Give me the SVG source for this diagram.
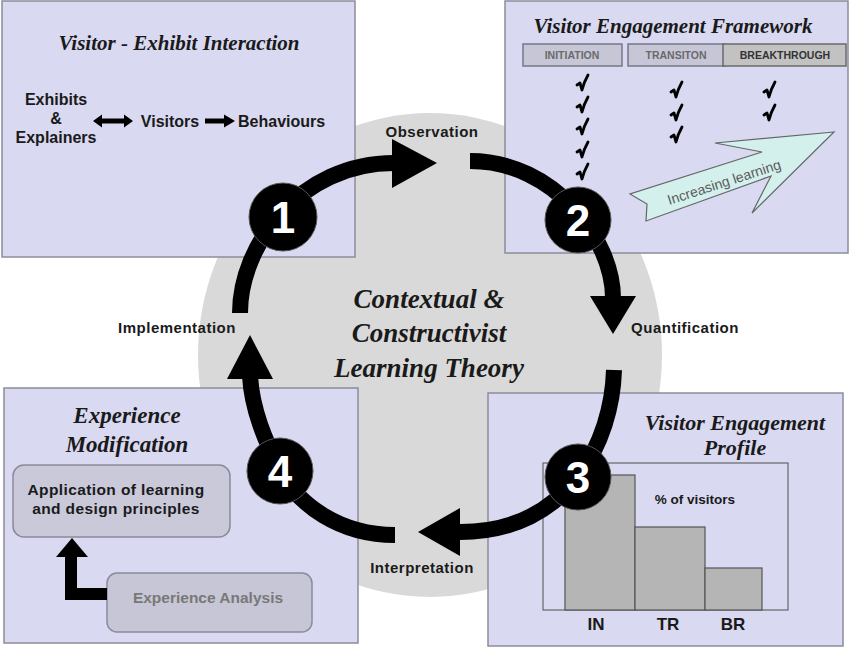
<svg xmlns="http://www.w3.org/2000/svg" xmlns:xlink="http://www.w3.org/1999/xlink" width="850" height="654" viewBox="0 0 850 654">
  <style>
    .panel { fill: #d9d9f1; stroke: #8c8c9c; stroke-width: 1.5; }
    .ttl { font-family: "Liberation Serif", "Times New Roman", serif; font-weight: bold; font-style: italic; fill: #1a1a1a; text-anchor: middle; }
    .sans { font-family: "Liberation Sans", Arial, sans-serif; font-weight: bold; fill: #1a1a1a; }
    .muted { font-family: "Liberation Sans", Arial, sans-serif; font-weight: bold; fill: #787878; }
    .lbl { font-family: "Liberation Sans", Arial, sans-serif; font-weight: bold; font-size: 15px; letter-spacing: 0.5px; fill: #1a1a1a; text-anchor: middle; }
    .arc { fill: none; stroke: #000; stroke-width: 16; }
    .head { fill: #000; }
    .num { font-family: "Liberation Sans", Arial, sans-serif; font-weight: bold; font-size: 44px; fill: #fff; text-anchor: middle; }
    .bar { fill: #c6c6d6; stroke: #777787; stroke-width: 1.5; }
    .bartxt { font-family: "Liberation Sans", Arial, sans-serif; font-weight: bold; font-size: 10.5px; text-anchor: middle; }
    .tick { fill: none; stroke: #000; stroke-width: 2.8; stroke-linejoin: round; stroke-linecap: round; }
    .col { fill: #b5b5b5; stroke: #555; stroke-width: 1.2; }
    .rbox { fill: #c9c9da; stroke: #8a8a9a; stroke-width: 1.5; }
  </style>
  <defs>
    <path id="tick" class="tick" d="M-6,1 L-3,-1 L-1,6 Q1,-2 5,-9"/>
  </defs>

  <rect width="850" height="654" fill="#ffffff"/>

  <g id="theory-background">
    <ellipse cx="430" cy="355" rx="232" ry="242" fill="#d9d9d9"/>
  </g>

  <g id="panel-interaction">
    <rect class="panel" x="2" y="1" width="353" height="256"/>
    <text class="ttl" x="179" y="50" font-size="21">Visitor - Exhibit Interaction</text>
    <text class="sans" x="56" y="105" font-size="16" text-anchor="middle">Exhibits</text>
    <text class="sans" x="56" y="124" font-size="16" text-anchor="middle">&amp;</text>
    <text class="sans" x="56" y="143" font-size="16" text-anchor="middle">Explainers</text>
    <polygon fill="#000" points="93,121 102,114.5 102,118.5 124,118.5 124,114.5 133,121 124,127.5 124,123.5 102,123.5 102,127.5"/>
    <text class="sans" x="170" y="127" font-size="16" text-anchor="middle">Visitors</text>
    <polygon fill="#000" points="205,118.5 224,118.5 224,114.5 235,121 224,127.5 224,123.5 205,123.5"/>
    <text class="sans" x="238" y="127" font-size="16">Behaviours</text>
  </g>

  <g id="panel-framework">
    <rect class="panel" x="505" y="1" width="343" height="252"/>
    <text class="ttl" x="673" y="33" font-size="21">Visitor Engagement Framework</text>
    <rect class="bar" x="523" y="44" width="99" height="22"/>
    <text class="bartxt" x="572" y="59" fill="#6a6a6a">INITIATION</text>
    <rect class="bar" x="628" y="44" width="97" height="22"/>
    <text class="bartxt" x="676" y="59" fill="#6a6a6a">TRANSITON</text>
    <rect x="723" y="44" width="123" height="22" fill="#c2c2c2" stroke="#6a6a6a" stroke-width="1.5"/>
    <text class="bartxt" x="785" y="59" fill="#333">BREAKTHROUGH</text>
    <use xlink:href="#tick" x="583" y="84"/>
    <use xlink:href="#tick" x="583" y="106"/>
    <use xlink:href="#tick" x="583" y="128"/>
    <use xlink:href="#tick" x="583" y="151"/>
    <use xlink:href="#tick" x="583" y="173"/>
    <use xlink:href="#tick" x="677" y="91"/>
    <use xlink:href="#tick" x="677" y="114"/>
    <use xlink:href="#tick" x="677" y="136"/>
    <use xlink:href="#tick" x="770" y="91"/>
    <use xlink:href="#tick" x="770" y="114"/>
    <polygon points="834,132 715,143 762,152 630,194 647,204 646,221 771,176 752,213" fill="#d3f0ec" stroke="#666" stroke-width="1.2" stroke-linejoin="miter"/>
    <text x="724" y="187" font-family="Liberation Sans, Arial, sans-serif" font-size="14" fill="#5a5a5a" text-anchor="middle" transform="rotate(-18 724 182)">Increasing learning</text>
  </g>

  <g id="panel-profile">
    <rect class="panel" x="488" y="393" width="355" height="253"/>
    <text class="ttl" x="735" y="430" font-size="22">Visitor Engagement</text>
    <text class="ttl" x="735" y="455" font-size="22">Profile</text>
    <rect x="543" y="463" width="245" height="147" fill="none" stroke="#666" stroke-width="1.2"/>
    <rect class="col" x="565" y="475" width="70" height="135"/>
    <rect class="col" x="635" y="527" width="70" height="83"/>
    <rect class="col" x="705" y="568" width="57" height="42"/>
    <text class="sans" x="695" y="504" font-size="13.5" text-anchor="middle">% of visitors</text>
    <text class="sans" x="596" y="630" font-size="17" text-anchor="middle">IN</text>
    <text class="sans" x="668" y="630" font-size="17" text-anchor="middle">TR</text>
    <text class="sans" x="733" y="630" font-size="17" text-anchor="middle">BR</text>
  </g>

  <g id="panel-modification">
    <rect class="panel" x="4" y="388" width="354" height="255"/>
    <text class="ttl" x="127" y="423" font-size="23">Experience</text>
    <text class="ttl" x="127" y="452" font-size="23">Modification</text>
    <g id="node-application">
      <rect class="rbox" x="13" y="465" width="217" height="72" rx="11"/>
      <text class="sans" x="116" y="495" font-size="15.5" letter-spacing="0.4" text-anchor="middle">Application of learning</text>
      <text class="sans" x="116" y="514" font-size="15.5" letter-spacing="0.4" text-anchor="middle">and design principles</text>
    </g>
    <g id="node-analysis">
      <rect x="107" y="573" width="205" height="59" rx="10" fill="#c6c6d6" stroke="#8a8a9a" stroke-width="1.5"/>
      <text class="muted" x="208" y="603" font-size="15.5" text-anchor="middle">Experience Analysis</text>
    </g>
    <g id="analysis-to-application">
      <path d="M107,594 L71,594 L71,555" fill="none" stroke="#000" stroke-width="12"/>
      <polygon fill="#000" points="72,538 56,557 88,557"/>
    </g>
  </g>

  <g id="center-theory">
    <text class="ttl" x="429" y="308" font-size="27">Contextual &amp;</text>
    <text class="ttl" x="429" y="342" font-size="27">Constructivist</text>
    <text class="ttl" x="429" y="377" font-size="27">Learning Theory</text>
  </g>

  <g id="connectors">
    <path class="arc" d="M240,313 C240,245 300,163 394,163"/>
    <polygon class="head" points="437,163 392,139 392,188"/>
    <path class="arc" d="M470,161 C555,161 613,240 613,298"/>
    <polygon class="head" points="613,334 590,296 636,296"/>
    <path class="arc" d="M614,370 C612,440 570,532 460,532"/>
    <polygon class="head" points="418,532 460,508 460,556"/>
    <path class="arc" d="M395,535 C340,535 298,505 280,470 C265,440 252,410 250,376"/>
    <polygon class="head" points="250,335 227,379 273,379"/>
  </g>

  <g id="label-observation"><text class="lbl" x="432" y="137">Observation</text></g>
  <g id="label-quantification"><text class="lbl" x="685" y="333">Quantification</text></g>
  <g id="label-interpretation"><text class="lbl" x="422" y="573">Interpretation</text></g>
  <g id="label-implementation"><text class="lbl" x="177" y="333">Implementation</text></g>

  <g id="step-1"><circle cx="283" cy="217" r="34" fill="#000" stroke="#555" stroke-width="1"/><text class="num" x="283" y="233">1</text></g>
  <g id="step-2"><circle cx="578" cy="220" r="33" fill="#000" stroke="#555" stroke-width="1"/><text class="num" x="578" y="236">2</text></g>
  <g id="step-3"><circle cx="578" cy="477" r="33" fill="#000" stroke="#555" stroke-width="1"/><text class="num" x="578" y="493">3</text></g>
  <g id="step-4"><circle cx="280" cy="471" r="33" fill="#000" stroke="#555" stroke-width="1"/><text class="num" x="280" y="487">4</text></g>
</svg>
